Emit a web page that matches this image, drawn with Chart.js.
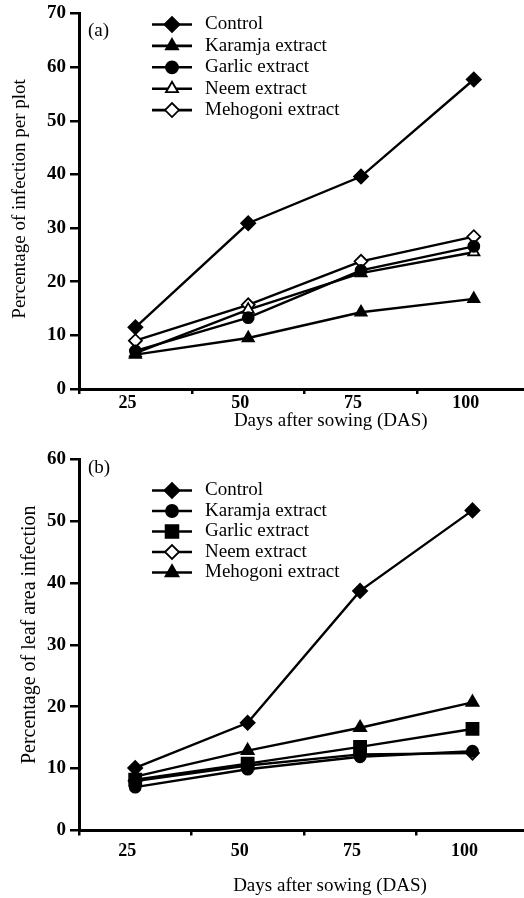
<!DOCTYPE html>
<html>
<head>
<meta charset="utf-8">
<script src="https://cdn.jsdelivr.net/npm/chart.js@4/dist/chart.umd.min.js"></script>
<style>
  html, body { margin: 0; background: #fff; overflow: hidden; }
  .panel { width: 524px; overflow: hidden; }
  canvas { display: block; }
</style>
</head>
<body>
<div class="panel"><canvas id="chartA" width="539" height="440"></canvas></div>
<div class="panel"><canvas id="chartB" width="539" height="458"></canvas></div>
<script>
const days = ["25", "50", "75", "100"];

// (a) percentage of infection per plot
const plotControl = [11.5, 30.9, 39.6, 57.7];
const plotKaramja = [6.4, 9.5, 14.3, 16.8];
const plotGarlic = [7.1, 13.3, 22.1, 26.6];
const plotNeem = [6.7, 14.8, 21.6, 25.5];
const plotMehogoni = [9.0, 15.7, 23.8, 28.4];
const plotTicks = [0, 10, 20, 30, 40, 50, 60, 70];

// (b) percentage of leaf area infection
const leafControl = [10.1, 17.4, 38.7, 51.7];
const leafKaramja = [7.0, 9.9, 11.9, 12.8];
const leafGarlic = [8.2, 10.8, 13.5, 16.4];
const leafNeem = [8.0, 10.5, 12.3, 12.5];
const leafMehogoni = [8.7, 12.9, 16.6, 20.7];
const leafTicks = [0, 10, 20, 30, 40, 50, 60];

const serif = "'Liberation Serif', 'Times New Roman', serif";

// legend with a short line through the marker, drawn inside the plot
const lineLegend = {
    id: "lineLegend",
    afterDraw(chart, args, opts) {
        const ctx = chart.ctx;
        ctx.save();
        ctx.font = "19px " + serif;
        ctx.textBaseline = "middle";
        ctx.textAlign = "left";
        chart.data.datasets.forEach((ds, i) => {
            const y = opts.top + i * opts.gap;
            ctx.strokeStyle = "#000";
            ctx.lineWidth = 2.6;
            ctx.beginPath();
            ctx.moveTo(opts.x1, y);
            ctx.lineTo(opts.x2, y);
            ctx.stroke();
            ctx.fillStyle = ds.pointBackgroundColor;
            ctx.lineWidth = ds.pointBorderWidth;
            Chart.helpers.drawPoint(ctx, {
                pointStyle: ds.pointStyle,
                radius: ds.pointRadius + 0.5,
                borderWidth: ds.pointBorderWidth,
                rotation: 0
            }, (opts.x1 + opts.x2) / 2, y);
            ctx.fillStyle = "#000";
            ctx.fillText(ds.label, opts.textX, y);
        });
        ctx.fillText(opts.tag, opts.tagX, opts.tagY);
        ctx.restore();
    }
};

function series(label, values, style, filled, radius) {
    return {
        label: label,
        data: values,
        borderColor: "#000",
        borderWidth: 2.4,
        pointStyle: style,
        pointRadius: radius,
        pointHoverRadius: radius,
        pointBackgroundColor: filled ? "#000" : "#fff",
        pointBorderColor: "#000",
        pointBorderWidth: 1.8,
        tension: 0
    };
}

function makeChart(id, datasets, yTicks, opt) {
    return new Chart(document.getElementById(id), {
        type: "line",
        data: { labels: days, datasets: datasets },
        plugins: [lineLegend],
        options: {
            responsive: false,
            animation: false,
            layout: { padding: { top: opt.padTop, right: -6, bottom: opt.padBottom, left: 0 } },
            plugins: {
                legend: { display: false },
                tooltip: { enabled: false },
                lineLegend: opt.legend
            },
            scales: {
                x: {
                    type: "category",
                    offset: true,
                    grid: {
                        offset: true,
                        drawOnChartArea: false,
                        tickLength: 5,
                        lineWidth: 2.5,
                        color: (c) => c.index >= days.length ? "rgba(0,0,0,0)" : "#000"
                    },
                    border: { display: true, color: "#000", width: 3 },
                    ticks: {
                        color: "#000",
                        padding: opt.xTickPad,
                        labelOffset: -8,
                        font: { family: serif, size: 18, weight: "bold", lineHeight: 1 }
                    },
                    title: {
                        display: true,
                        // leading spaces push the title a little right, as in the original
                        text: " ".repeat(11) + "Days after sowing (DAS)",
                        color: "#000",
                        padding: { top: opt.xTitlePad, bottom: 0 },
                        font: { family: serif, size: 19, lineHeight: 1 }
                    }
                },
                y: {
                    min: 0,
                    max: yTicks[yTicks.length - 1],
                    afterBuildTicks: (scale) => {
                        scale.ticks = yTicks.map(v => ({ value: v }));
                    },
                    afterFit: (scale) => { scale.width = 79; },
                    grid: {
                        drawOnChartArea: false,
                        tickLength: 9,
                        lineWidth: 2.5,
                        color: "#000"
                    },
                    border: { display: true, color: "#000", width: 3 },
                    ticks: {
                        color: "#000",
                        padding: 4,
                        font: { family: serif, size: 19, weight: "bold", lineHeight: 1 }
                    },
                    title: {
                        display: true,
                        text: opt.yTitle,
                        color: "#000",
                        padding: { top: opt.yTitlePad, bottom: 0 },
                        font: { family: serif, size: opt.yTitleSize, lineHeight: 1 }
                    }
                }
            }
        }
    });
}

makeChart("chartA", [
    series("Control", plotControl, "rectRot", true, 7),
    series("Karamja extract", plotKaramja, "triangle", true, 6.5),
    series("Garlic extract", plotGarlic, "circle", true, 5.5),
    series("Neem extract", plotNeem, "triangle", false, 6.5),
    series("Mehogoni extract", plotMehogoni, "rectRot", false, 6.5)
], plotTicks, {
    padTop: 11,
    padBottom: 9,
    xTickPad: 0,
    xTitlePad: 0,
    yTitle: " Percentage of infection per plot",
    yTitleSize: 19,
    yTitlePad: 10.5,
    legend: { x1: 152, x2: 192, textX: 205, top: 24.5, gap: 21.4, tag: "(a)", tagX: 88, tagY: 31 }
});

makeChart("chartB", [
    series("Control", leafControl, "rectRot", true, 7),
    series("Karamja extract", leafKaramja, "circle", true, 5.5),
    series("Garlic extract", leafGarlic, "rect", true, 8.5),
    series("Neem extract", leafNeem, "rectRot", false, 6.5),
    series("Mehogoni extract", leafMehogoni, "triangle", true, 7)
], leafTicks, {
    padTop: 19,
    padBottom: 2,
    xTickPad: 7,
    xTitlePad: 9.5,
    yTitle: "    Percentage of leaf area infection",
    yTitleSize: 20,
    yTitlePad: 20,
    legend: { x1: 152, x2: 192, textX: 205, top: 50.5, gap: 20.5, tag: "(b)", tagX: 88, tagY: 28 }
});
</script>
</body>
</html>
